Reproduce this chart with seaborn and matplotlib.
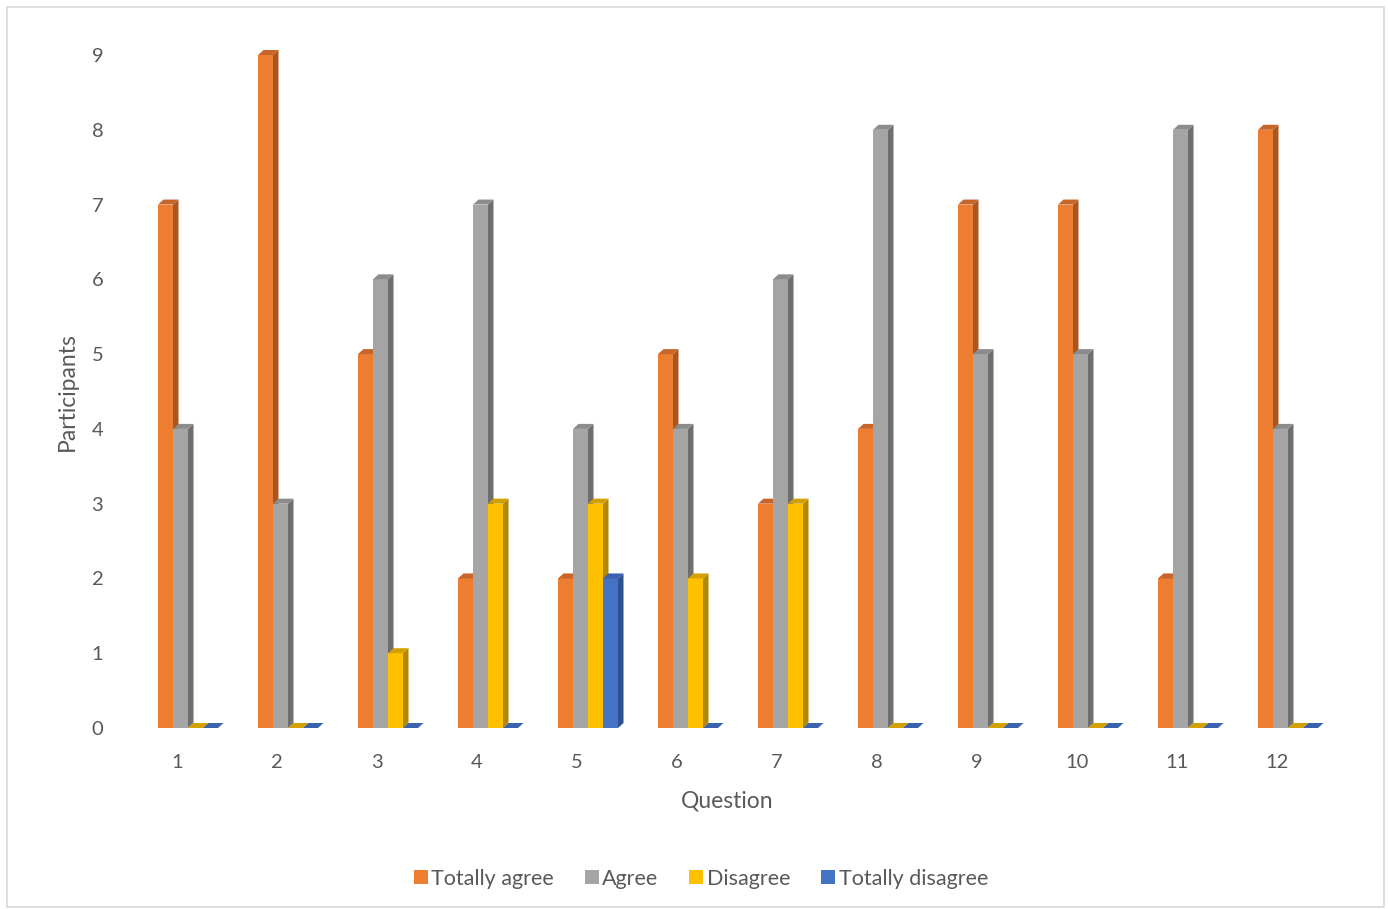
import matplotlib
matplotlib.use("Agg")
import matplotlib.pyplot as plt
import matplotlib.transforms as mtransforms
from matplotlib.patches import Polygon, Rectangle
import seaborn as sns
import pandas as pd

questions = ["1", "2", "3", "4", "5", "6", "7", "8", "9", "10", "11", "12"]
series_names = ["Totally agree", "Agree", "Disagree", "Totally disagree"]
totally_agree = [7, 9, 5, 2, 2, 5, 3, 4, 7, 7, 2, 8]
agree = [4, 3, 6, 7, 4, 4, 6, 8, 5, 5, 8, 4]
disagree = [0, 0, 1, 3, 3, 2, 3, 0, 0, 0, 0, 0]
totally_disagree = [0, 0, 0, 0, 2, 0, 0, 0, 0, 0, 0, 0]

front_colors = ["#ED7D31", "#A5A5A5", "#FFC000", "#4472C4"]
side_colors = ["#A9561F", "#6E6E6E", "#B38700", "#2E5190"]
top_colors = ["#C8652A", "#8C8C8C", "#D4A000", "#3A62AE"]

rows = []
for name, vals in zip(series_names, [totally_agree, agree, disagree, totally_disagree]):
    for q, v in zip(questions, vals):
        rows.append({"Question": q, "Participants": v, "Series": name})
df = pd.DataFrame(rows)

sns.set_theme(style="white")
plt.rcParams["font.family"] = ["Lato", "DejaVu Sans"]

fig = plt.figure(figsize=(13.88, 9.09), dpi=100)
ax = fig.add_axes([138 / 1388, 181 / 909, 1200 / 1388, 673 / 909])

sns.barplot(data=df, x="Question", y="Participants", hue="Series",
            hue_order=series_names, order=questions,
            palette=front_colors, width=0.6, saturation=1,
            linewidth=0, ax=ax, legend=True)

ax.set_xlim(-0.5, 11.5)
ax.set_ylim(0, 9)

# 3D depth offsets (data units)
dx = 0.055
dy = 5 / 74.8

bars = [p for p in ax.patches if isinstance(p, Rectangle) and p.get_width() > 0]
n = len(questions)
for si in range(len(series_names)):
    for p in bars[si * n:(si + 1) * n]:
        x0 = p.get_x()
        w = p.get_width()
        h = p.get_height()
        x1 = x0 + w
        z = 2 + si
        p.set_zorder(z)
        side = Polygon([(x1, 0), (x1, h), (x1 + dx, h + dy), (x1 + dx, dy)],
                       closed=True, facecolor=side_colors[si], edgecolor="none",
                       zorder=z, clip_on=False)
        top = Polygon([(x0, h), (x1, h), (x1 + dx, h + dy), (x0 + dx, h + dy)],
                      closed=True, facecolor=top_colors[si], edgecolor="none",
                      zorder=z, clip_on=False)
        ax.add_patch(side)
        ax.add_patch(top)

for s in ax.spines.values():
    s.set_visible(False)
ax.grid(False)

ax.set_yticks(range(0, 10))
ax.tick_params(axis="both", length=0, labelsize=14.5, labelcolor="#595959")
ax.tick_params(axis="y", pad=25)
ax.tick_params(axis="x", pad=18.5)
shift = mtransforms.ScaledTranslation(-11 / 100, 0, fig.dpi_scale_trans)
for lbl in ax.get_xticklabels():
    lbl.set_transform(lbl.get_transform() + shift)

ax.set_xlabel("Question", fontsize=16.5, color="#595959", labelpad=14)
ax.xaxis.label.set_transform(ax.xaxis.label.get_transform() + shift)
ax.set_ylabel("Participants", fontsize=16.5, color="#595959", labelpad=10)

leg = ax.legend(loc="upper center", bbox_to_anchor=(0.469, -0.18), ncol=4, frameon=False,
                fontsize=15.5, handlelength=0.65, handleheight=0.65, handletextpad=0.15,
                columnspacing=1.45, labelcolor="#595959")

fig.patches.append(Rectangle((7 / 1388, 2 / 909), 1377 / 1388, 900 / 909,
                             transform=fig.transFigure, fill=False,
                             edgecolor="#D9D9D9", linewidth=1.2))

fig.savefig("out.png", dpi=100)
